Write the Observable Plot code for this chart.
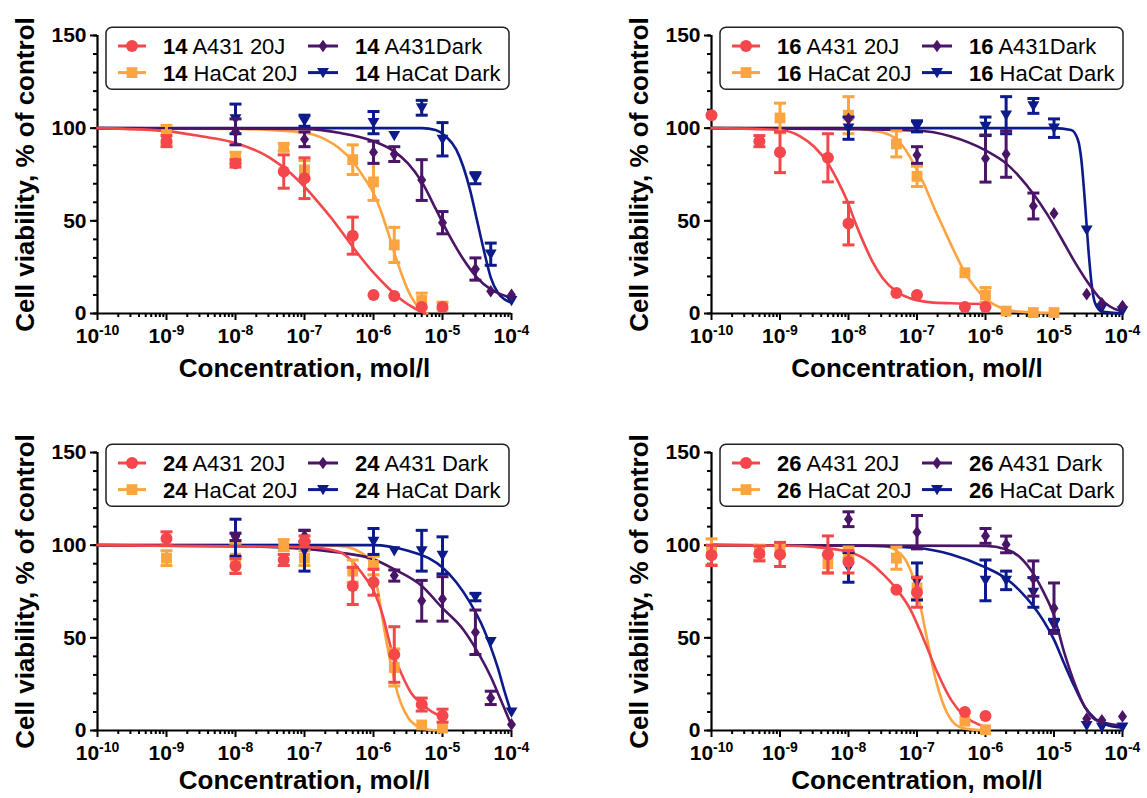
<!DOCTYPE html>
<html><head><meta charset="utf-8">
<script src="https://cdn.jsdelivr.net/npm/d3@7"></script>
<script src="https://cdn.jsdelivr.net/npm/@observablehq/plot@0.6"></script>
<style>
html,body{margin:0;padding:0;background:#fff;}
#root{position:relative;width:1147px;height:798px;overflow:hidden;font-family:"Liberation Sans",Arial,sans-serif;}
.panel{position:absolute;}
</style></head><body><div id="root"></div>
<script>
// ---------- tick values / labels ----------
const xMajorTicks = [1e-10, 1e-9, 1e-8, 1e-7, 1e-6, 1e-5, 1e-4];
const xMinorMultipliers = [2, 3, 4, 5, 6, 7, 8, 9];
const yMajorTicks = [0, 50, 100, 150];
const yMinorTicks = [0, 10, 20, 30, 40, 50, 60, 70, 80, 90, 100, 110, 120, 130, 140, 150];
const yTitle = "Cell viability, % of control";
const xTitle = "Concentration, mol/l";

// ---------- compounds and legend labels ----------
const compounds = ["14", "16", "24", "26"];
const legend14 = ["A431 20J", "HaCat 20J", "A431Dark", "HaCat Dark"];
const legend16 = ["A431 20J", "HaCat 20J", "A431Dark", "HaCat Dark"];
const legend24 = ["A431 20J", "HaCat 20J", "A431 Dark", "HaCat Dark"];
const legend26 = ["A431 20J", "HaCat 20J", "A431 Dark", "HaCat Dark"];

// ---------- measured points: [concentration mol/l, mean %, error] ----------
const p14_A431_20J = [[1e-9,93,3],[1e-8,81,2],[5e-8,76.6,9],[1e-7,73,11],[5e-7,42,10],[1e-6,10,0],[2e-6,9.4,0],[5e-6,3.5,0],[1e-5,3.5,0]];
const p14_HaCat_20J = [[1e-9,96.5,5],[1e-8,84,3],[5e-8,89.7,2],[1e-7,77.5,5],[5e-7,83,8],[1e-6,71,10],[2e-6,37,9.5],[5e-6,7,4],[1e-5,4,2]];
const p14_A431_Dark = [[1e-8,98,7],[1e-7,94,4],[1e-6,87,6],[2e-6,86,4],[5e-6,72,11],[1e-5,49,6],[3e-5,24,6],[5e-5,12,0],[1e-4,10,0]];
const p14_HaCat_Dark = [[1e-8,105,8],[1e-7,104,3],[1e-6,103,6],[2e-6,96,0],[5e-6,111,4],[1e-5,94,9],[3e-5,73,3],[5e-5,32,6],[1e-4,7,0]];

const p16_A431_20J = [[1e-10,107,0],[5e-10,93,3],[1e-9,87,11],[5e-9,84,13],[1e-8,48.5,11.5],[5e-8,11,0],[1e-7,10,0],[5e-7,3.5,0],[1e-6,3.5,0]];
const p16_HaCat_20J = [[1e-9,105.5,8],[1e-8,107,10],[5e-8,91.5,7],[1e-7,74,5.5],[5e-7,22,0],[1e-6,10,4],[2e-6,1.3,0],[5e-6,0.5,0],[1e-5,0.5,0]];
const p16_A431_Dark = [[1e-8,105,0],[1e-7,85.5,4.5],[1e-6,83.6,12.7],[2e-6,86,12.5],[5e-6,58,7],[1e-5,54,0],[3e-5,10.4,0],[5e-5,5.5,0],[1e-4,4,0]];
const p16_HaCat_Dark = [[1e-8,100,6],[1e-7,101,3],[1e-6,101,5],[2e-6,107,10],[5e-6,112,4],[1e-5,100,5],[3e-5,45,0],[5e-5,3,0],[1e-4,1.5,0]];

const p24_A431_20J = [[1e-9,103.6,3.6],[1e-8,88.7,4],[5e-8,92,3],[1e-7,102,3],[5e-7,78,10],[1e-6,80,7],[2e-6,41,15],[5e-6,14,3.5],[1e-5,8,3.5]];
const p24_HaCat_20J = [[1e-9,93,4],[1e-8,93,8],[5e-8,100,3],[1e-7,93,4],[5e-7,86,6],[1e-6,89,5],[2e-6,34,10],[5e-6,3,0],[1e-5,1.3,0]];
const p24_A431_Dark = [[1e-8,104.5,2],[1e-7,105,3],[2e-6,83.6,3],[5e-6,70,11],[1e-5,71,12],[3e-5,53,12],[5e-5,17.6,3.6],[1e-4,3.3,0]];
const p24_HaCat_Dark = [[1e-8,104,10],[1e-7,97,11],[1e-6,102,7],[2e-6,97,0],[5e-6,97,11],[1e-5,94.5,10],[3e-5,72,2],[5e-5,48,0],[1e-4,10,0]];

const p26_A431_20J = [[1e-10,94.5,5.5],[5e-10,95.5,4],[1e-9,95,6.5],[5e-9,95,10],[1e-8,91,6],[5e-8,76,0],[1e-7,74.5,8],[5e-7,10,0],[1e-6,7.8,0]];
const p26_HaCat_20J = [[1e-10,96.4,7],[5e-10,96,4],[1e-9,98,3],[5e-9,90,5],[1e-8,96,3],[5e-8,93,6],[1e-7,77,6],[5e-7,5,0],[1e-6,0.4,0]];
const p26_A431_Dark = [[1e-8,114,4],[1e-7,107,9],[1e-6,105,4],[2e-6,100.4,4.5],[5e-6,82,9.5],[1e-5,66,13.6],[3e-5,6.4,0],[5e-5,5.5,0],[1e-4,7.6,0]];
const p26_HaCat_Dark = [[1e-8,88,8],[1e-7,80.4,10],[1e-6,81,11],[2e-6,81,5],[5e-6,74.5,8],[1e-5,57,3],[3e-5,2.7,0],[5e-5,1.8,0],[1e-4,1.8,0]];

// ---------- fitted curves: [log10 concentration, %] ----------
const f14_A431_20J = [[-10,100],[-9,98.4],[-8.5,95.6],[-8,92],[-7.5,84],[-7.2,75.7],[-7,68.4],[-6.8,60],[-6.6,51],[-6.4,41],[-6.2,31],[-6,22],[-5.8,14.3],[-5.6,7.6],[-5.4,2.7],[-5.25,0]];
const f14_HaCat_20J = [[-10,100],[-8,99.6],[-7.5,99],[-7,97.5],[-6.7,94],[-6.5,89.3],[-6.3,82],[-6.15,74],[-6,65],[-5.9,56],[-5.8,45],[-5.7,33],[-5.6,22],[-5.5,12.5],[-5.4,5.8],[-5.3,1.3],[-5.22,0]];
const f14_A431_Dark = [[-10,100],[-7,99.6],[-6.5,97.5],[-6,93],[-5.7,87.5],[-5.5,81],[-5.3,71],[-5.1,56.6],[-4.9,42],[-4.7,29.4],[-4.5,19.4],[-4.3,13],[-4.15,10.3],[-4,8.5]];
const f14_HaCat_Dark = [[-10,100],[-5.3,100],[-5.1,99],[-4.95,95.6],[-4.8,88.4],[-4.7,79.3],[-4.6,66.6],[-4.5,50.3],[-4.4,34],[-4.3,19.4],[-4.2,11.3],[-4.1,7.6],[-4,5.8]];

const f16_A431_20J = [[-10,100],[-9,99],[-8.7,95.5],[-8.5,90],[-8.3,81],[-8.15,71],[-8,59],[-7.9,49],[-7.8,40],[-7.65,28],[-7.5,19],[-7.3,11.8],[-7.1,8.2],[-6.8,6],[-6.5,5.5],[-6,5.1]];
const f16_HaCat_20J = [[-10,100],[-8,100],[-7.7,99],[-7.4,96.4],[-7.2,90],[-7.05,81],[-6.9,70],[-6.75,57],[-6.6,45],[-6.45,33],[-6.3,22],[-6.15,14],[-6,8],[-5.8,3.5],[-5.5,1],[-5,0.2]];
const f16_A431_Dark = [[-10,100],[-8,99.5],[-7,98.7],[-6.5,95.5],[-6,88],[-5.7,81],[-5.5,73.6],[-5.3,64.5],[-5.1,53.6],[-4.9,41],[-4.7,28],[-4.5,16.4],[-4.35,9],[-4.2,4.2],[-4,1]];
const f16_HaCat_Dark = [[-10,100],[-5,100],[-4.75,99],[-4.65,93.6],[-4.6,82.7],[-4.55,61],[-4.5,35.5],[-4.45,15.5],[-4.4,5.5],[-4.3,1],[-4,0]];

const f24_A431_20J = [[-10,100],[-7,99],[-6.5,96.5],[-6.3,91],[-6.15,84],[-6,75.5],[-5.85,60],[-5.75,45],[-5.6,31],[-5.45,20],[-5.3,14.5],[-5.15,10],[-5,7.3]];
const f24_HaCat_20J = [[-10,100],[-7,100],[-6.5,99.6],[-6.2,96.4],[-6.05,91],[-5.95,78],[-5.85,56],[-5.75,36],[-5.65,20],[-5.5,7],[-5.35,2],[-5.2,0.4],[-5,0]];
const f24_A431_Dark = [[-10,100],[-8,99.5],[-7,98],[-6.5,96],[-6,92.4],[-5.7,87],[-5.3,78],[-5,66],[-4.7,54.5],[-4.5,43],[-4.3,29],[-4.15,16],[-4,2.7]];
const f24_HaCat_Dark = [[-10,100],[-6,100],[-5.5,97],[-5.2,93],[-5,88],[-4.8,80],[-4.6,69],[-4.4,54.5],[-4.3,45],[-4.2,34],[-4.1,21],[-4,9]];

const f26_A431_20J = [[-10,100],[-9,99.8],[-8.5,99],[-8,96.4],[-7.7,91],[-7.5,84.5],[-7.3,76.4],[-7.1,65.5],[-6.9,49],[-6.7,31],[-6.5,16.4],[-6.3,7.6],[-6.1,3.3],[-6,1.8]];
const f26_HaCat_20J = [[-10,100],[-7.5,99.6],[-7.3,97],[-7.15,91],[-7.05,82],[-6.95,67],[-6.85,49],[-6.75,31],[-6.6,12.7],[-6.45,3.6],[-6.3,1],[-6,0]];
const f26_A431_Dark = [[-10,100],[-6,99.6],[-5.7,97.8],[-5.5,93.6],[-5.3,84.5],[-5.15,74.5],[-5,62],[-4.85,42],[-4.7,25.5],[-4.55,12.7],[-4.4,5.8],[-4.2,3.6],[-4,2.7]];
const f26_HaCat_Dark = [[-10,100],[-8,99.8],[-7,98.5],[-6.5,95],[-6,88],[-5.7,82],[-5.5,75.5],[-5.3,67],[-5.15,59],[-5,49],[-4.85,36],[-4.7,23.6],[-4.55,12.7],[-4.4,6.4],[-4.2,2.7],[-4,1.5]];

// ---------- styling ----------
const FONT = '"Liberation Sans", Arial, sans-serif';
const colRed = "#F4474B", colOrange = "#FCA43F", colPurple = "#4A1567", colNavy = "#0D1A8C";

const symCircle = {draw(c, s) { const r = Math.sqrt(s / Math.PI); c.moveTo(r, 0); c.arc(0, 0, r, 0, 2 * Math.PI); c.closePath(); }};
const symSquare = {draw(c, s) { const r = Math.sqrt(s / Math.PI); c.rect(-r, -r, 2 * r, 2 * r); }};
const symDiamond = {draw(c, s) { const r = Math.sqrt(s / Math.PI); const w = r * 0.85, h = r * 1.2; c.moveTo(0, -h); c.lineTo(w, 0); c.lineTo(0, h); c.lineTo(-w, 0); c.closePath(); }};
const symTriDown = {draw(c, s) { const r = Math.sqrt(s / Math.PI); c.moveTo(-r * 1.1, -r * 0.85); c.lineTo(r * 1.1, -r * 0.85); c.lineTo(0, r * 1.05); c.closePath(); }};
const symCap = {draw(c, s) { const r = Math.sqrt(s / Math.PI); c.moveTo(-r, 0); c.lineTo(r, 0); }};

const styleRed = {color: colRed, symbol: symCircle, r: 6};
const styleOrange = {color: colOrange, symbol: symSquare, r: 5.4};
const stylePurple = {color: colPurple, symbol: symDiamond, r: 5.3};
const styleNavy = {color: colNavy, symbol: symTriDown, r: 5.4};

const toRows = arr => arr.map(([x, y, e]) => ({x, y, e}));

const panelsCfg = [
  {num: compounds[0], legend: legend14, left: 0, top: 0, width: 560, height: 400, mL: 97, mT: 35, mR: 49, mB: 87, titleDy: 55,
   data: [p14_A431_20J, p14_HaCat_20J, p14_A431_Dark, p14_HaCat_Dark], fits: [f14_A431_20J, f14_HaCat_20J, f14_A431_Dark, f14_HaCat_Dark]},
  {num: compounds[1], legend: legend16, left: 560, top: 0, width: 587, height: 400, mL: 151, mT: 35, mR: 25, mB: 87, titleDy: 55,
   data: [p16_A431_20J, p16_HaCat_20J, p16_A431_Dark, p16_HaCat_Dark], fits: [f16_A431_20J, f16_HaCat_20J, f16_A431_Dark, f16_HaCat_Dark]},
  {num: compounds[2], legend: legend24, left: 0, top: 400, width: 560, height: 398, mL: 97, mT: 52, mR: 49, mB: 68, titleDy: 50,
   data: [p24_A431_20J, p24_HaCat_20J, p24_A431_Dark, p24_HaCat_Dark], fits: [f24_A431_20J, f24_HaCat_20J, f24_A431_Dark, f24_HaCat_Dark]},
  {num: compounds[3], legend: legend26, left: 560, top: 400, width: 587, height: 398, mL: 151, mT: 52, mR: 25, mB: 68, titleDy: 50,
   data: [p26_A431_20J, p26_HaCat_20J, p26_A431_Dark, p26_HaCat_Dark], fits: [f26_A431_20J, f26_HaCat_20J, f26_A431_Dark, f26_HaCat_Dark]}
];

const seriesStyles = [styleRed, styleOrange, stylePurple, styleNavy];
const drawOrder = [1, 3, 2, 0]; // orange, navy, purple, red

const xMinorTicks = xMajorTicks.slice(0, -1).flatMap(d => xMinorMultipliers.map(m => d * m));

function makePanel(cfg) {
  const marks = [];
  // axes
  marks.push(Plot.axisY(yMinorTicks, {tickSize: 4, tickFormat: () => "", strokeWidth: 2, label: null}));
  marks.push(Plot.axisY(yMajorTicks, {tickSize: 7, tickPadding: 4, fontSize: 21, fontWeight: "bold", strokeWidth: 2, label: null}));
  marks.push(Plot.axisX(xMinorTicks, {tickSize: 4, tickFormat: () => "", strokeWidth: 2, label: null}));
  marks.push(Plot.axisX(xMajorTicks, {tickSize: 7, tickPadding: 8, fontSize: 21, fontWeight: "bold", strokeWidth: 2, label: null,
    tickFormat: d => "10^" + Math.round(Math.log10(d))}));
  marks.push(Plot.ruleX([xMajorTicks[0]], {strokeWidth: 2.2}));
  marks.push(Plot.ruleY([0], {strokeWidth: 2.2}));
  // fitted curves
  for (const i of drawOrder) {
    const st = seriesStyles[i];
    marks.push(Plot.line(cfg.fits[i], {x: d => Math.pow(10, d[0]), y: d => d[1], stroke: st.color, strokeWidth: 2.6, curve: "monotone-x"}));
  }
  // error bars & points
  for (const i of drawOrder) {
    const st = seriesStyles[i];
    const rows = toRows(cfg.data[i]);
    const err = rows.filter(d => d.e > 0);
    marks.push(Plot.ruleX(err, {x: "x", y1: d => d.y - d.e, y2: d => d.y + d.e, stroke: st.color, strokeWidth: 3}));
    marks.push(Plot.dot(err, {x: "x", y: d => d.y + d.e, symbol: symCap, r: 6, stroke: st.color, strokeWidth: 3, fill: "none"}));
    marks.push(Plot.dot(err, {x: "x", y: d => d.y - d.e, symbol: symCap, r: 6, stroke: st.color, strokeWidth: 3, fill: "none"}));
    marks.push(Plot.dot(rows, {x: "x", y: "y", symbol: st.symbol, r: st.r, fill: st.color, stroke: "none"}));
  }
  // titles
  marks.push(Plot.text([xTitle], {frameAnchor: "bottom", dy: cfg.titleDy, lineAnchor: "middle", fontSize: 26, fontWeight: "bold"}));
  marks.push(Plot.text([yTitle], {frameAnchor: "left", dx: -72, rotate: -90, lineAnchor: "middle", textAnchor: "middle", fontSize: 26, fontWeight: "bold"}));

  const svg = Plot.plot({
    width: cfg.width, height: cfg.height,
    marginLeft: cfg.mL, marginTop: cfg.mT, marginRight: cfg.mR, marginBottom: cfg.mB,
    x: {type: "log", domain: [xMajorTicks[0], xMajorTicks[xMajorTicks.length - 1]], label: null},
    y: {domain: [yMajorTicks[0], yMajorTicks[yMajorTicks.length - 1]], label: null},
    style: {fontFamily: FONT, background: "white", color: "black", overflow: "visible"},
    marks
  });

  // superscript exponents on x tick labels
  d3.select(svg).selectAll("text").each(function() {
    const t = this.textContent;
    if (this.childElementCount === 0 && /^10\^/.test(t)) {
      const exp = t.split("^")[1];
      this.textContent = "";
      const s = d3.select(this);
      s.append("tspan").text("10");
      s.append("tspan").attr("dy", "-8").style("font-size", "14px").text(exp);
    }
  });

  // legend
  const fl = cfg.mL, ft = cfg.mT;
  const g = d3.select(svg).append("g")
    .style("font-family", FONT).style("font-size", "22px").style("text-anchor", "start");
  g.append("rect").attr("x", fl + 9).attr("y", ft - 7.7).attr("width", 403).attr("height", 62)
    .attr("rx", 6).attr("fill", "white").attr("stroke", "#222").attr("stroke-width", 1.5);
  const slots = [
    {i: 0, cx: 35, l1: 21, l2: 49, tx: 66, ry: 11},
    {i: 1, cx: 35, l1: 21, l2: 49, tx: 66, ry: 37.6},
    {i: 2, cx: 226, l1: 211, l2: 241, tx: 258, ry: 11},
    {i: 3, cx: 226, l1: 211, l2: 241, tx: 258, ry: 37.6}
  ];
  for (const sl of slots) {
    const st = seriesStyles[sl.i];
    const y = ft + sl.ry;
    g.append("line").attr("x1", fl + sl.l1).attr("x2", fl + sl.l2).attr("y1", y).attr("y2", y)
      .attr("stroke", st.color).attr("stroke-width", 3);
    g.append("path").attr("transform", `translate(${fl + sl.cx},${y})`)
      .attr("d", d3.symbol().type(st.symbol).size(Math.PI * st.r * st.r)()).attr("fill", st.color);
    const tx = g.append("text").attr("x", fl + sl.tx).attr("y", y).attr("dy", "0.36em")
      .style("text-anchor", "start").attr("fill", "black");
    tx.append("tspan").style("font-weight", "bold").text(cfg.num);
    tx.append("tspan").style("font-weight", "normal").text(" " + cfg.legend[sl.i]);
  }

  const div = document.createElement("div");
  div.className = "panel";
  div.style.left = cfg.left + "px";
  div.style.top = cfg.top + "px";
  div.appendChild(svg);
  document.getElementById("root").appendChild(div);
}

panelsCfg.forEach(makePanel);
</script>
</body></html>
